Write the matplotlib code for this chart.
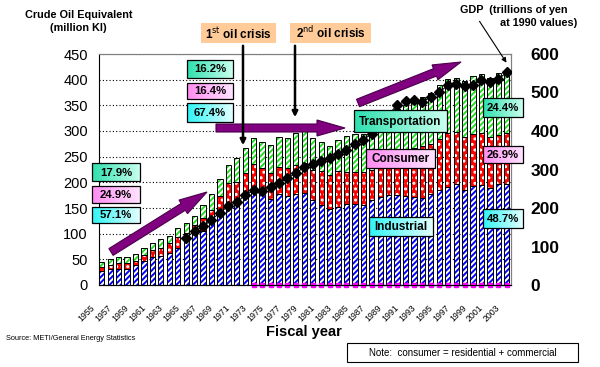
import matplotlib
matplotlib.use('Agg')
import matplotlib.pyplot as plt
import numpy as np
from matplotlib.patches import Rectangle, FancyArrow
from matplotlib.transforms import ScaledTranslation
from matplotlib.colors import LinearSegmentedColormap

plt.rcParams['font.family'] = ['Liberation Sans', 'DejaVu Sans']
plt.rcParams['hatch.linewidth'] = 1.4

# ---------------- data ----------------
years = list(range(1955, 2004))
industrial = [27, 31, 32, 31, 38, 46, 55, 56, 63, 72,
              85, 101, 106, 120, 145, 155, 163, 172, 185, 180,
              167, 178, 174, 178, 179, 166, 155, 149, 152, 158,
              158, 155, 165, 172, 176, 175, 174, 172, 170, 178,
              185, 190, 196, 185, 192, 195, 189, 197, 197]
consumer = [8, 8, 10, 11, 9, 12, 13, 16, 18, 21,
            16, 16, 24, 27, 28, 43, 37, 46, 51, 48,
            51, 52, 54, 56, 59, 59, 67, 66, 70, 63,
            63, 66, 60, 60, 64, 77, 86, 94, 100, 97,
            99, 107, 102, 103, 103, 101, 100, 95, 99]
transport = [9, 12, 12, 12, 14, 14, 13, 18, 15, 18,
             19, 18, 26, 31, 33, 36, 47, 49, 50, 51,
             55, 58, 58, 62, 62, 61, 57, 55, 61, 69,
             73, 74, 74, 80, 82, 90, 91, 94, 96, 99,
             105, 105, 105, 110, 113, 116, 115, 121, 121]
gdp_years = list(range(1965, 2004))
gdp = [123, 140, 152, 169, 188, 205, 215, 233, 246, 243,
       255, 266, 277, 291, 306, 314, 323, 330, 339, 350,
       367, 377, 393, 418, 442, 468, 477, 480, 476, 488,
       500, 519, 522, 518, 520, 533, 527, 535, 552]
base_years = list(range(1973, 2004))
base_vals = [0] * len(base_years)
xtick_labels = [str(y) for y in years[::2]]
left_ticks = list(range(0, 451, 50))
right_ticks = list(range(0, 601, 100))

share_1955 = ['17.9%', '24.9%', '57.1%']
share_1973 = ['16.2%', '16.4%', '67.4%']
share_2003 = ['24.4%', '26.9%', '48.7%']

# ---------------- figure ----------------
fig = plt.figure(figsize=(6.0, 3.67), dpi=100)
fig.patch.set_facecolor('white')
ax = fig.add_axes([99/600, 1-285/367, 412/600, 231/367])

x = np.arange(len(years))
ind = np.array(industrial, float)
con = np.array(consumer, float)
tra = np.array(transport, float)
w = 0.62

ax.bar(x, ind, w, color='white', edgecolor='#0000FF', hatch='//////', linewidth=0, zorder=2)
ax.bar(x, con, w, bottom=ind, color='#FF0000', edgecolor='white', hatch='...', linewidth=0, zorder=2)
ax.bar(x, tra, w, bottom=ind+con, color='white', edgecolor='#22DD22', hatch='//////', linewidth=0, zorder=2)
for b, h in [(0, ind), (ind, con), (ind+con, tra)]:
    ax.bar(x, h, w, bottom=b, fill=False, edgecolor='black', linewidth=0.7, zorder=3)

ax.set_xlim(-0.33, len(years) - 0.5)
ax.set_ylim(0, 450)
ax.set_yticks(left_ticks)
ax.set_xticks([])
ax.yaxis.grid(True, linestyle=(0, (1, 2)), color='black', linewidth=0.8)
ax.set_axisbelow(True)
ax.tick_params(axis='y', length=0, pad=8, labelsize=10.5)
for s in ['top', 'right']:
    ax.spines[s].set_color('#808080')
ax.spines['left'].set_color('black')
ax.spines['bottom'].set_color('black')

off = ScaledTranslation(-8/100, -21/100, fig.dpi_scale_trans)
for xi, lab in zip(x[::2], xtick_labels):
    ax.text(xi, 0, lab, transform=ax.get_xaxis_transform() + off, rotation=45,
            ha='right', va='center', rotation_mode='anchor', fontsize=6.3)

bx = np.array([years.index(y) for y in base_years])
ax.plot(bx, base_vals, color='#008080', lw=1.0, marker='s', ms=2.5,
        mfc='#FF00FF', mec='#FF00FF', clip_on=False, zorder=6)

ax2 = ax.twinx()
ax2.set_ylim(0, 600)
ax2.set_yticks(right_ticks)
ax2.tick_params(axis='y', length=0, pad=14, labelsize=12.5)
for t in ax2.get_yticklabels():
    t.set_fontweight('bold')
for s in ['top', 'right']:
    ax2.spines[s].set_color('#808080')
ax2.spines['left'].set_visible(False)
gx = np.array([years.index(y) for y in gdp_years])
ax2.plot(gx, gdp, color='black', lw=0.8, marker='D', ms=4.6, mfc='black', mec='black', zorder=5)

# ---------------- overlay annotations (pixel coords) ----------------
ov = fig.add_axes([0, 0, 1, 1])
ov.set_xlim(0, 600)
ov.set_ylim(367, 0)
ov.axis('off')
ov.patch.set_alpha(0)

TEAL = ('#2EE0AE', '#C8FFEE')
PINK = ('#FF8CF2', '#FFE2FF')
CYAN = ('#30F5F5', '#E2FFFF')
grad = np.linspace(0, 1, 64).reshape(1, -1)

def box(x0, y0, x1, y1, text, cols, fs=8.2):
    cmap = LinearSegmentedColormap.from_list('g', list(cols))
    ov.imshow(grad, cmap=cmap, extent=(x0, x1, y1, y0), aspect='auto', zorder=10,
              interpolation='bilinear')
    ov.add_patch(Rectangle((x0, y0), x1-x0, y1-y0, facecolor='none', edgecolor='black',
                           lw=0.9, zorder=10.5))
    ov.text((x0+x1)/2, (y0+y1)/2 + 0.5, text, ha='center', va='center', fontsize=fs,
            fontweight='bold', zorder=11)

# purple trend arrows
for (x0, y0, x1, y1) in [(111, 252, 207, 192), (216, 128, 345, 128), (358, 103, 461, 62)]:
    ov.add_patch(FancyArrow(x0, y0, x1-x0, y1-y0, width=8, head_width=16, head_length=28,
                            length_includes_head=True, facecolor='#800080', edgecolor='#4a004a',
                            lw=0.8, zorder=9))

# oil crisis markers
ov.add_patch(Rectangle((201, 23), 75, 20, facecolor='#FFCC99', edgecolor='none', zorder=10))
ov.text(238.5, 33.5, '1$^{\\mathrm{st}}$ oil crisis', ha='center', va='center', fontsize=8.5,
        fontweight='bold', zorder=11)
ov.add_patch(Rectangle((290, 23), 81, 20, facecolor='#FFCC99', edgecolor='none', zorder=10))
ov.text(330.5, 33.5, '2$^{\\mathrm{nd}}$ oil crisis', ha='center', va='center', fontsize=8.5,
        fontweight='bold', zorder=11)
ov.annotate('', xy=(243, 148), xytext=(243, 43),
            arrowprops=dict(arrowstyle='-|>', color='black', lw=1.8, mutation_scale=8), zorder=10)
ov.annotate('', xy=(295, 120), xytext=(295, 43),
            arrowprops=dict(arrowstyle='-|>', color='black', lw=1.8, mutation_scale=8), zorder=10)

# share boxes
for (y0, y1), txt, c in zip([(163, 181), (186, 203), (207, 223)], share_1955, [TEAL, PINK, CYAN]):
    box(92, y0, 140, y1, txt, c)
for (y0, y1), txt, c in zip([(60, 78), (83, 99), (103, 122)], share_1973, [TEAL, PINK, CYAN]):
    box(187, y0, 233, y1, txt, c)
for (y0, y1), txt, c in zip([(98, 117), (146, 163), (209, 228)], share_2003, [TEAL, PINK, CYAN]):
    box(483, y0, 523, y1, txt, c)

box(354, 110, 447, 132, 'Transportation', TEAL, fs=8.5)
box(366, 149, 435, 168, 'Consumer', PINK, fs=8.5)
box(369, 217, 433, 236, 'Industrial', CYAN, fs=8.5)

# axis titles
ov.text(78.5, 15, 'Crude Oil Equivalent', ha='center', va='center', fontsize=7.8, fontweight='bold')
ov.text(78, 28, '(million Kl)', ha='center', va='center', fontsize=7.8, fontweight='bold')
ov.text(460, 10, 'GDP  (trillions of yen', ha='left', va='center', fontsize=7.8, fontweight='bold')
ov.text(577, 23.5, 'at 1990 values)', ha='right', va='center', fontsize=7.8, fontweight='bold')
ov.annotate('', xy=(508, 65), xytext=(478, 19),
            arrowprops=dict(arrowstyle='-|>', color='black', lw=0.8, mutation_scale=7))

ov.text(304, 332, 'Fiscal year', ha='center', va='center', fontsize=10.5, fontweight='bold')
ov.text(6, 338.5, 'Source: METI/General Energy Statistics', ha='left', va='center', fontsize=5.3)
ov.add_patch(Rectangle((347, 343), 231, 19, facecolor='white', edgecolor='black', lw=0.8))
ov.text(462.5, 352.5, 'Note:  consumer = residential + commercial', ha='center', va='center', fontsize=7)

ov.set_xlim(0, 600)
ov.set_ylim(367, 0)

fig.savefig('out.png', dpi=100, facecolor='white')
